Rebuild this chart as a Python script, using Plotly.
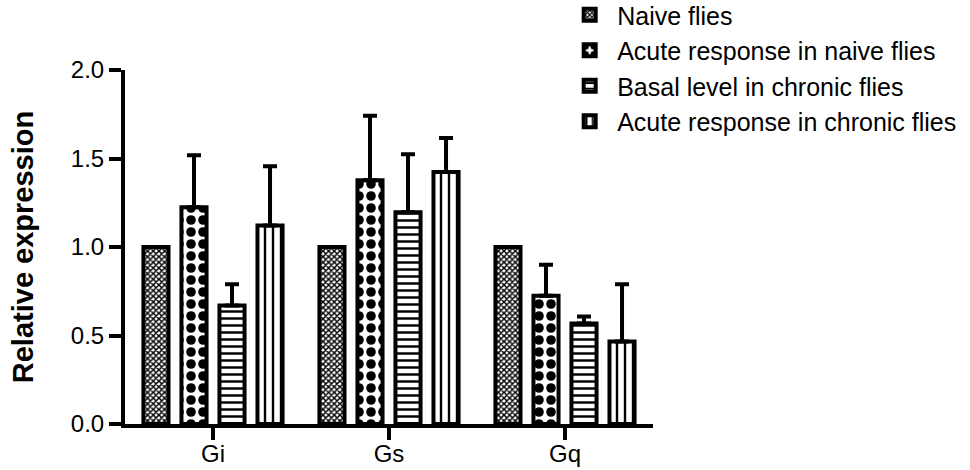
import plotly.graph_objects as go

categories = ["Gi", "Gs", "Gq"]
series_names = [
    "Naive flies",
    "Acute response in naive flies",
    "Basal level in chronic flies",
    "Acute response in chronic flies",
]
naive = [1.0, 1.0, 1.0]
acute_naive = [1.225, 1.377, 0.725]
basal_chronic = [0.67, 1.197, 0.568]
acute_chronic = [1.122, 1.424, 0.466]

naive_err = [0.0, 0.0, 0.0]
acute_naive_err = [0.293, 0.364, 0.175]
basal_chronic_err = [0.119, 0.327, 0.040]
acute_chronic_err = [0.334, 0.192, 0.324]

y_ticks = [0.0, 0.5, 1.0, 1.5, 2.0]
y_tick_labels = ["0.0", "0.5", "1.0", "1.5", "2.0"]

values = [naive, acute_naive, basal_chronic, acute_chronic]
errors = [naive_err, acute_naive_err, basal_chronic_err, acute_chronic_err]
patterns = [
    dict(shape="x", size=4, solidity=0.6, fgcolor="black", fgopacity=1, bgcolor="white", fillmode="overlay"),
    dict(shape=".", size=12, solidity=0.5, fgcolor="black", fgopacity=1, bgcolor="white", fillmode="overlay"),
    dict(shape="-", size=7, solidity=0.35, fgcolor="black", fgopacity=1, bgcolor="white", fillmode="overlay"),
    dict(shape="|", size=8, solidity=0.3, fgcolor="black", fgopacity=1, bgcolor="white", fillmode="overlay"),
]

FONT = "Liberation Sans, Arial, sans-serif"

fig = go.Figure()
for name, vals, errs, pat in zip(series_names, values, errors, patterns):
    has_err = any(e > 0 for e in errs)
    fig.add_trace(go.Bar(
        x=categories,
        y=vals,
        name=name,
        marker=dict(color="white", line=dict(color="black", width=4), pattern=pat),
        error_y=dict(type="data", array=errs, arrayminus=[0] * len(errs), symmetric=False,
                     color="black", thickness=4, width=7, visible=has_err),
    ))

fig.update_layout(
    width=970,
    height=470,
    margin=dict(l=125, r=317, t=70, b=46, autoexpand=False),
    paper_bgcolor="white",
    plot_bgcolor="white",
    barmode="group",
    bargap=0.136,
    bargroupgap=0.34,
    font=dict(family=FONT, size=24, color="black"),
    legend=dict(
        x=0.828, y=1.22, xanchor="left", yanchor="top",
        font=dict(family=FONT, size=25, color="black"),
        itemwidth=45,
        tracegroupgap=0,
        bgcolor="rgba(0,0,0,0)",
    ),
    showlegend=True,
)
fig.update_xaxes(
    range=[-0.5, 2.5],
    showline=True, linewidth=4, linecolor="black",
    ticks="outside", ticklen=12, tickwidth=4, tickcolor="black",
    ticklabelstandoff=-7,
    showgrid=False, zeroline=False,
    tickfont=dict(family=FONT, size=24, color="black"),
    automargin=False,
)
fig.update_yaxes(
    range=[0, 2],
    tickvals=y_ticks, ticktext=y_tick_labels,
    showline=True, linewidth=4, linecolor="black",
    ticks="outside", ticklen=12, tickwidth=4, tickcolor="black",
    showgrid=False, zeroline=False,
    tickfont=dict(family=FONT, size=24, color="black"),
    title=dict(text="<b>Relative expression</b>", font=dict(family=FONT, size=29, color="black"), standoff=30),
    automargin=False,
)

fig.write_html("out.html")
